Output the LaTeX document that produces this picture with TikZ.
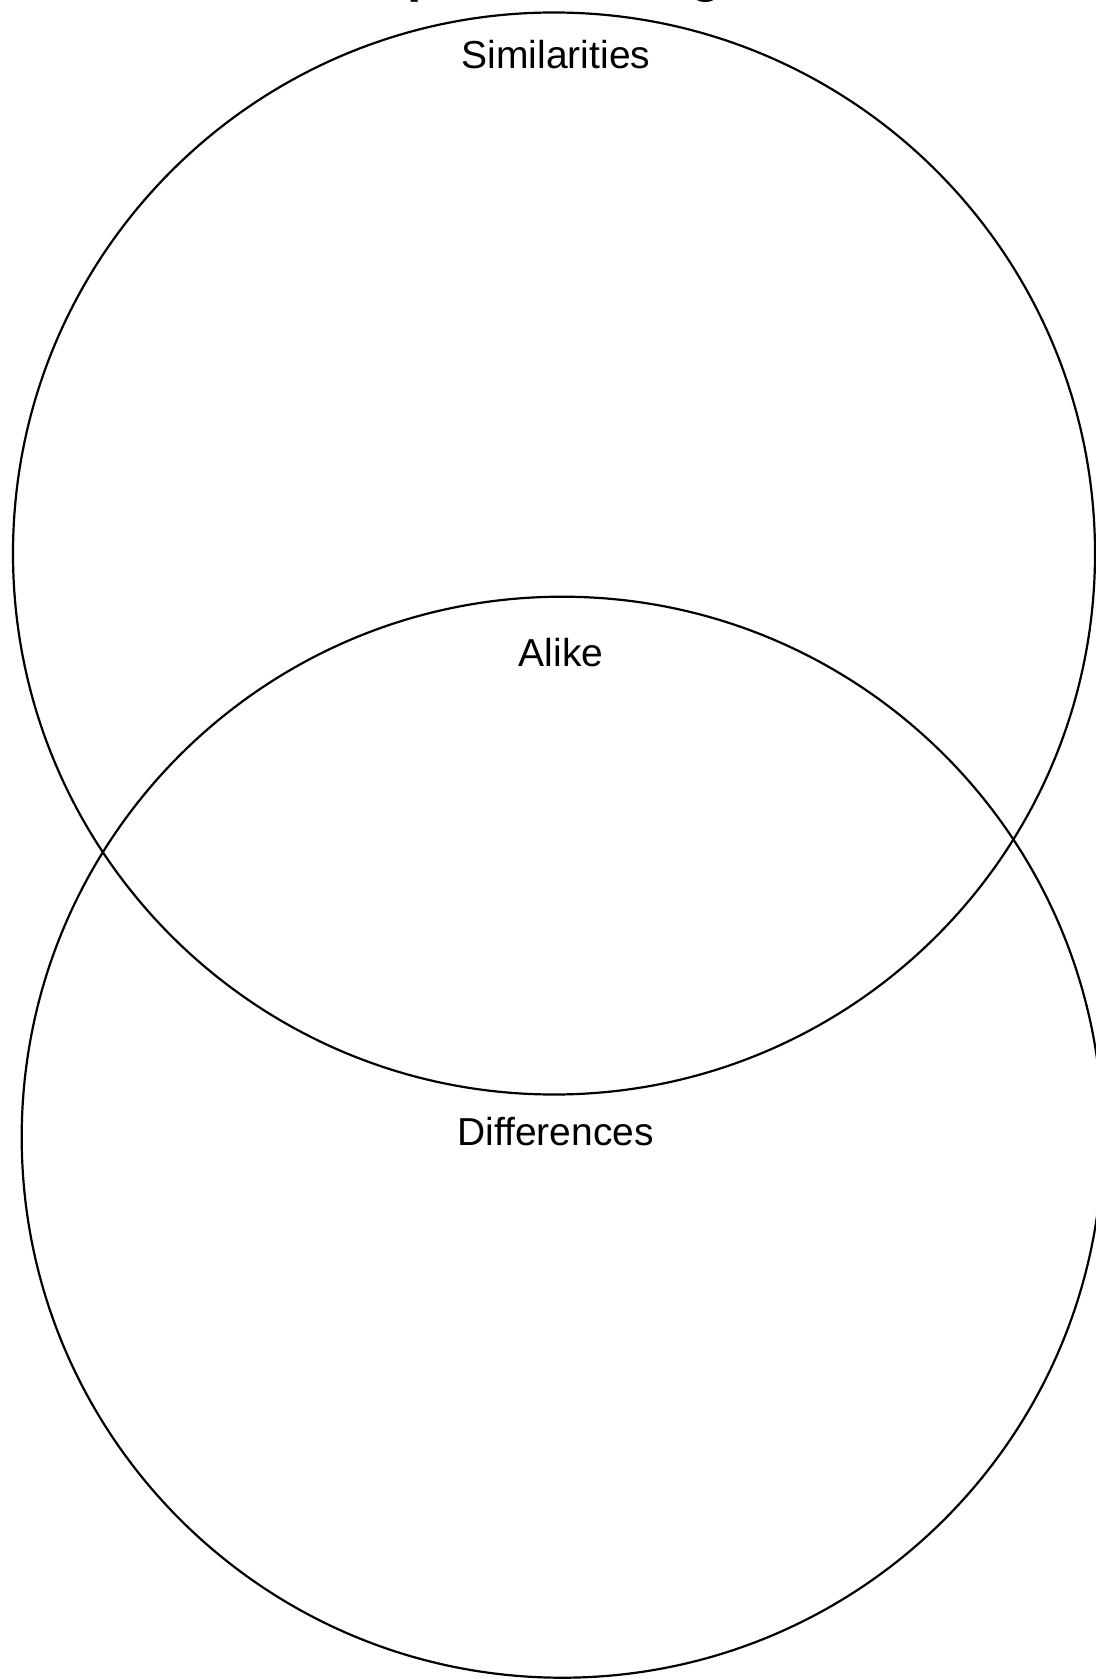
\documentclass[tikz,border=0pt]{standalone}
\usepackage{fontspec}
\setmainfont{Liberation Sans}
\usepackage{tikz}

\begin{document}
\begin{tikzpicture}[x=0.5pt, y=-0.5pt,
  ring/.style={draw=black, line width=1.1pt, circle, inner sep=0pt, minimum size=#1},
  label/.style={anchor=base, inner sep=0pt, font=\fontsize{19.5pt}{23pt}\selectfont},
  heading/.style={anchor=base, inner sep=0pt, font=\fontsize{26pt}{30pt}\selectfont\bfseries}]
\useasboundingbox (0,0) rectangle (1096,1679);

% the two circles
\node[ring=541pt] (top) at (554,553.5) {};
\node[ring=540.5pt] (bottom) at (562.2,1137.2) {};

% texts
\node[heading] (title) at (555,-8.3) {Comparison Diagram};
\node[label] (sim) at (556,68.3) {Similarities};
\node[label] (alike) at (561,666) {Alike};
\node[label] (diff) at (555.5,1145) {Differences};
\end{tikzpicture}
\end{document}
